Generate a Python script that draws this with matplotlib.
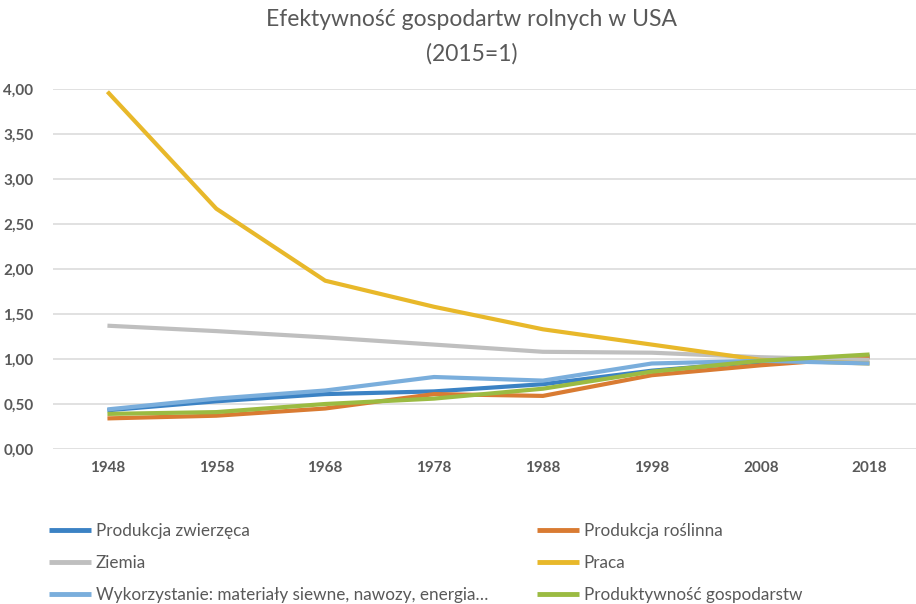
import matplotlib
matplotlib.use("Agg")
import matplotlib.pyplot as plt
from matplotlib.ticker import FuncFormatter

plt.rcParams['font.family'] = ['Lato', 'DejaVu Sans']

years = [1948, 1958, 1968, 1978, 1988, 1998, 2008, 2018]

produkcja_zwierzeca = [0.43, 0.53, 0.61, 0.64, 0.72, 0.87, 0.97, 1.03]
produkcja_roslinna = [0.34, 0.37, 0.45, 0.61, 0.59, 0.82, 0.93, 1.02]
ziemia = [1.37, 1.31, 1.24, 1.16, 1.08, 1.07, 1.02, 0.99]
praca = [3.97, 2.67, 1.87, 1.58, 1.33, 1.16, 0.99, 0.95]
wykorzystanie = [0.44, 0.56, 0.65, 0.80, 0.76, 0.95, 0.98, 0.95]
produktywnosc = [0.39, 0.41, 0.50, 0.56, 0.67, 0.86, 0.98, 1.05]

series = [
    ("Produkcja zwierzęca", produkcja_zwierzeca, "#3B82C4"),
    ("Produkcja roślinna", produkcja_roslinna, "#D97B32"),
    ("Ziemia", ziemia, "#BFBFBF"),
    ("Praca", praca, "#E8B82A"),
    ("Wykorzystanie: materiały siewne, nawozy, energia…", wykorzystanie, "#7AAEDC"),
    ("Produktywność gospodarstw", produktywnosc, "#9BBB42"),
]

text_grey = "#595959"

fig = plt.figure(figsize=(9.16, 6.04), dpi=100)
ax = fig.add_axes([53 / 916, 1 - 449 / 604, 871 / 916, 360 / 604])

x = list(range(len(years)))
handles = []
for name, vals, col in series:
    h, = ax.plot(x, vals, color=col, lw=3.0, label=name, solid_capstyle="butt")
    handles.append(h)

ax.set_xlim(-0.5, len(years) - 0.5)
ax.set_ylim(0, 4)
ax.set_yticks([0, 0.5, 1, 1.5, 2, 2.5, 3, 3.5, 4])
ax.yaxis.set_major_formatter(FuncFormatter(lambda v, p: f"{v:.2f}".replace(".", ",")))
ax.set_xticks(x)
ax.set_xticklabels([str(y) for y in years])
ax.grid(axis="y", color="#D9D9D9", lw=1.1)
ax.set_axisbelow(True)
for s in ax.spines.values():
    s.set_visible(False)
ax.tick_params(length=0, labelsize=11, labelcolor=text_grey, pad=14)
ax.tick_params(axis="x", pad=9)
for lab in ax.get_xticklabels() + ax.get_yticklabels():
    lab.set_fontweight("bold")

# two-line title, second line a bit further down
fig.text(472 / 916, 1 - 37 / 604, "Efektywność gospodartw rolnych w USA\n(2015=1)",
         ha="center", va="center", fontsize=16.5, color=text_grey, linespacing=1.75)

leg_kw = dict(frameon=False, fontsize=12.3, handlelength=2.45, handletextpad=0.3,
              labelspacing=0.95, labelcolor=text_grey, loc="upper left", borderaxespad=0)
leg1 = fig.legend([handles[0], handles[2], handles[4]],
                  [series[0][0], series[2][0], series[4][0]],
                  bbox_to_anchor=(42 / 916, 1 - 516 / 604), **leg_kw)
leg2 = fig.legend([handles[1], handles[3], handles[5]],
                  [series[1][0], series[3][0], series[5][0]],
                  bbox_to_anchor=(530 / 916, 1 - 516 / 604), **leg_kw)
for leg in (leg1, leg2):
    for ln in leg.get_lines():
        ln.set_linewidth(3.5)
    leg.set_zorder(5)

fig.savefig("out.png", dpi=100)
